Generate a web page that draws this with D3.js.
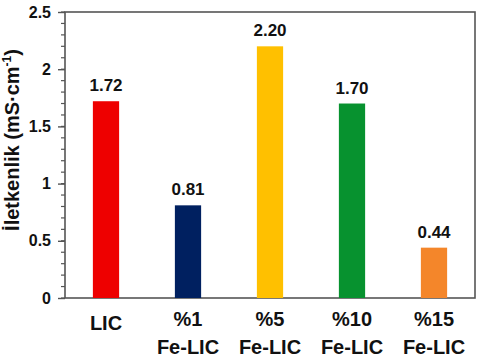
<!DOCTYPE html>
<html><head><meta charset="utf-8">
<script src="https://cdn.jsdelivr.net/npm/d3@7"></script>
<style>body{margin:0;background:#fff}svg{display:block}text{font-family:"Liberation Sans",Arial,sans-serif;font-weight:bold;fill:#111}</style>
</head><body><svg id="c" width="485" height="360"></svg>
<script>
const categories = [["LIC"], ["%1","Fe-LIC"], ["%5","Fe-LIC"], ["%10","Fe-LIC"], ["%15","Fe-LIC"]];
const values = [1.72, 0.81, 2.20, 1.70, 0.44];
const valueLabels = ["1.72", "0.81", "2.20", "1.70", "0.44"];
const colors = ["#ee0000", "#002060", "#ffc000", "#07922f", "#f4862a"];
const yTicks = [0, 0.5, 1, 1.5, 2, 2.5];
const yTickLabels = ["0", "0.5", "1", "1.5", "2", "2.5"];

const svg = d3.select("#c");
const m = {l:65, t:12, r:475, b:298};
const x = d3.scaleBand().domain(d3.range(categories.length)).range([m.l, m.r]).paddingInner(0.68).paddingOuter(0.34);
const y = d3.scaleLinear().domain([0, 2.5]).range([m.b, m.t]);
const axisColor = "#555";

// frame
svg.append("rect").attr("x", m.l).attr("y", m.t).attr("width", m.r-m.l).attr("height", m.b-m.t)
  .attr("fill","none").attr("stroke", axisColor).attr("stroke-width", 1.6);

// minor ticks
const minor = d3.range(0, 2.5001, 0.1);
svg.append("g").selectAll("line").data(minor).join("line")
  .attr("x1", m.l-4).attr("x2", m.l).attr("y1", d=>y(d)).attr("y2", d=>y(d))
  .attr("stroke", axisColor).attr("stroke-width", 1.2);

// major axis
const ay = svg.append("g").attr("transform", `translate(${m.l},0)`)
  .call(d3.axisLeft(y).tickValues(yTicks).tickFormat((d,i)=>yTickLabels[i]).tickSize(7).tickPadding(7));
ay.select(".domain").remove();
ay.selectAll("line").attr("stroke", axisColor).attr("stroke-width", 1.4);
ay.selectAll("text").attr("font-size", 16).attr("fill","#111").attr("font-family",'"Liberation Sans",Arial,sans-serif').attr("font-weight","bold");

// bars
svg.append("g").selectAll("rect").data(values).join("rect")
  .attr("x", (d,i)=>x(i)).attr("width", x.bandwidth())
  .attr("y", d=>y(d)).attr("height", d=>y(0)-y(d))
  .attr("fill", (d,i)=>colors[i]);

// value labels
svg.append("g").selectAll("text").data(values).join("text")
  .attr("x", (d,i)=>x(i)+x.bandwidth()/2).attr("y", d=>y(d)-10)
  .attr("text-anchor","middle").attr("font-size", 17)
  .text((d,i)=>valueLabels[i]);

// x labels
const xl = svg.append("g").selectAll("text").data(categories).join("text")
  .attr("text-anchor","middle").attr("font-size", 20)
  .attr("x", (d,i)=>x(i)+x.bandwidth()/2)
  .attr("y", d=> d.length===1 ? 330 : 326);
xl.selectAll("tspan").data(d=>d).join("tspan")
  .attr("x", function(){return this.parentNode.getAttribute("x");})
  .attr("dy", (d,i)=> i===0 ? 0 : 28)
  .text(d=>d);

// y label
const yl = svg.append("text").attr("transform", "translate(19,140) rotate(-90)")
  .attr("text-anchor","middle").attr("font-size", 20);
yl.append("tspan").text("İletkenlik (mS·cm");
yl.append("tspan").attr("font-size", 12).attr("dy", -8).text("-1");
yl.append("tspan").attr("dy", 8).text(")");
</script></body></html>
